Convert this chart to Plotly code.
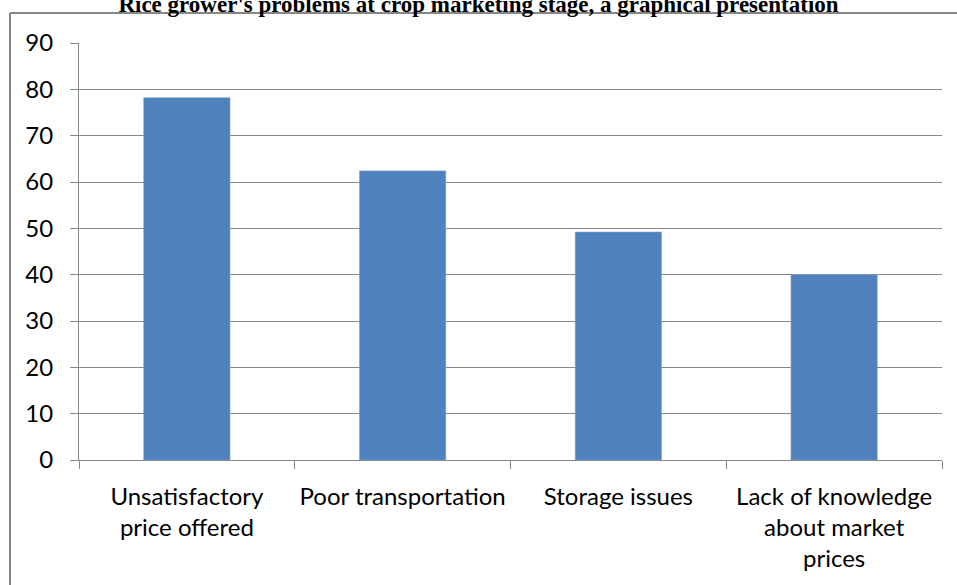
import plotly.graph_objects as go

categories = [
    "Unsatisfactory<br>price offered",
    "Poor transportation",
    "Storage issues",
    "Lack of knowledge<br>about market<br>prices",
]
values = [78.2, 62.4, 49.2, 40.0]
y_ticks = list(range(0, 100, 10))

TITLE = "Rice grower's problems at crop marketing stage, a graphical presentation"
BAR_COLOR = "#4F81BD"
GRID = "#888888"

W, H = 957, 585
L, R, T, B = 79, 15, 43, 125
pw, ph = W - L - R, H - T - B

# outer chart frame (pixel positions turned into paper coords)
fx0 = (10 - L) / pw
fx1 = (W + 5 - L) / pw
fy_top = 1 + (T - 13) / ph
fy_bot = -(H + 5 - T - ph) / ph
frame = dict(color="#868686", width=2)

fig = go.Figure(
    go.Bar(
        x=categories,
        y=values,
        marker=dict(color=BAR_COLOR, line=dict(color="#7FA3D3", width=0.6)),
        width=0.4,
    )
)

fig.update_layout(
    width=W,
    height=H,
    paper_bgcolor="white",
    plot_bgcolor="white",
    margin=dict(l=L, r=R, t=T, b=B),
    showlegend=False,
    font=dict(family="Lato, 'Open Sans', sans-serif", size=24, color="#000000"),
    title=dict(
        text=f"<b>{TITLE}</b>",
        font=dict(family="'Liberation Serif', 'Times New Roman', serif", size=23, color="#000"),
        x=0.5,
        xanchor="center",
        xref="container",
        y=1 - 4 / H,
        yref="container",
        yanchor="middle",
    ),
    shapes=[
        dict(type="line", xref="paper", yref="paper",
             x0=fx0, x1=fx1, y0=fy_top, y1=fy_top, line=frame),
        dict(type="line", xref="paper", yref="paper",
             x0=fx0, x1=fx0, y0=fy_bot, y1=fy_top, line=frame),
    ],
)

fig.update_yaxes(
    range=[0, 90],
    tickvals=y_ticks,
    showgrid=True,
    gridcolor=GRID,
    gridwidth=1.2,
    zeroline=False,
    showline=True,
    linecolor=GRID,
    linewidth=1.2,
    ticks="outside",
    ticklen=8,
    tickcolor=GRID,
    ticklabelstandoff=12,
    automargin=False,
)

fig.update_xaxes(
    showline=True,
    linecolor=GRID,
    linewidth=1.2,
    ticks="outside",
    tickson="boundaries",
    ticklen=8,
    tickcolor=GRID,
    showgrid=False,
    ticklabelstandoff=15,
    automargin=False,
)

# the browser's default body margin would shift the whole chart by 8px
fig.write_html(
    "out.html",
    config={"displayModeBar": False},
    post_script="document.body.style.margin='0';",
)
